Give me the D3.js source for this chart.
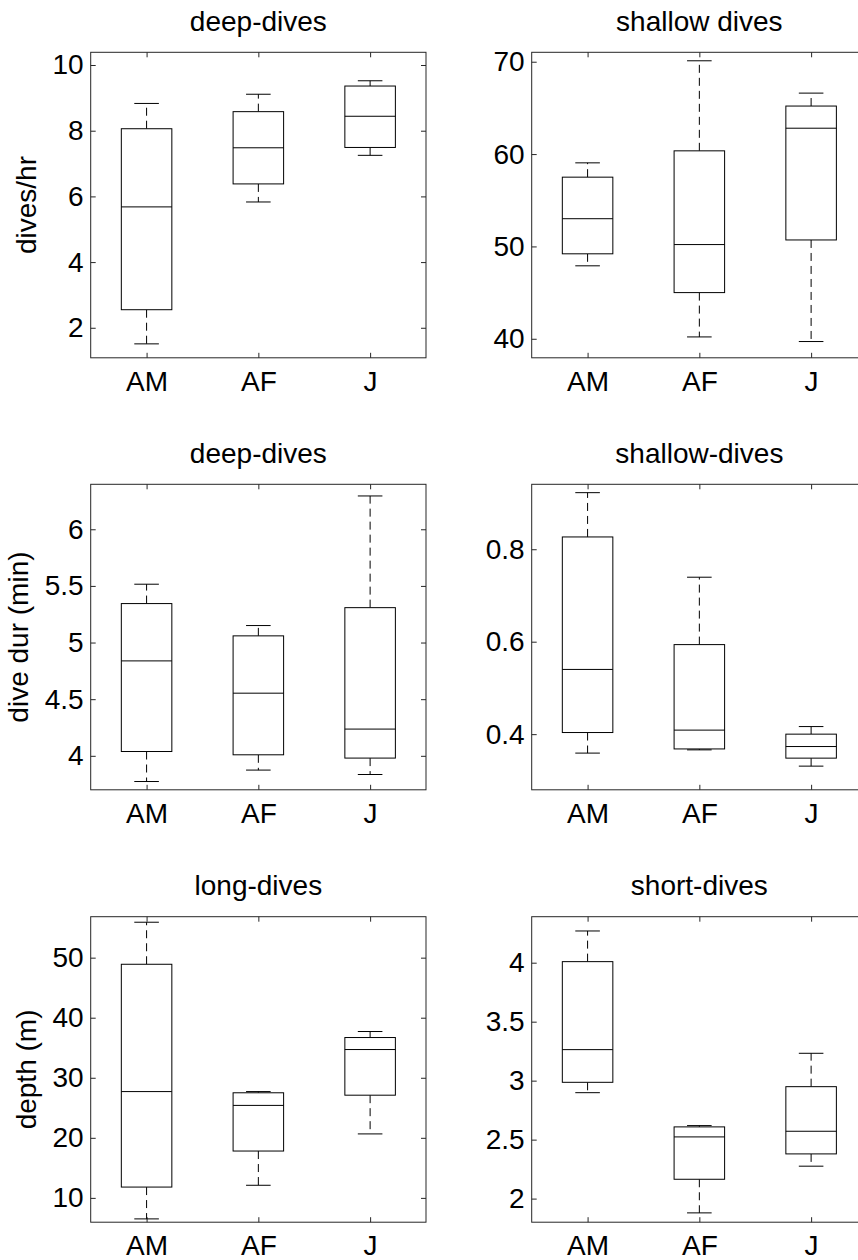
<!DOCTYPE html>
<html>
<head>
<meta charset="utf-8">
<script src="https://cdn.jsdelivr.net/npm/d3@7"></script>
<style>
  body { margin: 0; background: #fff; }
  text { font-family: "Liberation Sans", Arial, sans-serif; fill: #000; }
</style>
</head>
<body>
<svg id="chart" width="858" height="1260"></svg>
<script>
// groupes sur l'axe x
const groups = ["AM", "AF", "J"];

const titles = ["deep-dives", "shallow dives", "deep-dives", "shallow-dives", "long-dives", "short-dives"];
const yLabels = ["dives/hr", "", "dive dur (min)", "", "depth (m)", ""];

// chaque groupe : [moustache basse, q1, médiane, q3, moustache haute]
const rateDeep    = [[1.51, 2.55, 5.68, 8.06, 8.83], [5.83, 6.38, 7.48, 8.58, 9.11], [7.25, 7.49, 8.44, 9.36, 9.52]];
const rateShallow = [[47.9, 49.2, 53.0, 57.5, 59.05], [40.2, 45.0, 50.2, 60.35, 70.1], [39.7, 50.7, 62.8, 65.2, 66.6]];
const durDeep     = [[3.773, 4.038, 4.838, 5.344, 5.515], [3.874, 4.009, 4.553, 5.059, 5.15], [3.835, 3.98, 4.236, 5.308, 6.294]];
const durShallow  = [[0.359, 0.4035, 0.540, 0.8266, 0.9224], [0.366, 0.368, 0.4087, 0.5937, 0.7395], [0.3308, 0.3481, 0.3732, 0.400, 0.4164]];
const depthLong   = [[6.5, 11.8, 27.7, 48.9, 55.9], [12.1, 17.8, 25.4, 27.5, 27.7], [20.65, 27.1, 34.7, 36.7, 37.7]];
const depthShort  = [[2.898, 2.986, 3.263, 4.009, 4.269], [1.879, 2.164, 2.523, 2.608, 2.619], [2.275, 2.379, 2.571, 2.949, 3.232]];
const panelData = [rateDeep, rateShallow, durDeep, durShallow, depthLong, depthShort];

// limites et graduations des axes y
const yLimits = [[1.086, 10.387], [37.94, 71.02], [3.70, 6.397], [0.2796, 0.9405], [5.95, 56.82], [1.8, 4.39]];
const yTicks = [[2, 4, 6, 8, 10], [40, 50, 60, 70], [4, 4.5, 5, 5.5, 6], [0.4, 0.6, 0.8], [10, 20, 30, 40, 50], [2, 2.5, 3, 3.5, 4]];

const svg = d3.select("#chart");

// position des cadres (la colonne de droite dépasse du bord, comme l'original)
const colLeft = [90.7, 531.7];
const plotW = 335.3;
const rowTop = [52.3, 484.3, 916.7];
const plotH = 305.5;
const tickLen = 5;
const fontSize = 28;
const boxHalf = 0.226;  // en fraction de l'espacement
const capHalf = 0.11;

panelData.forEach((stats, i) => {
  const col = i % 2, row = Math.floor(i / 2);
  const g = svg.append("g")
    .attr("transform", `translate(${colLeft[col]},${rowTop[row]})`);

  const x = d3.scalePoint().domain(groups).range([0, plotW]).padding(0.5);
  const step = x.step();
  const y = d3.scaleLinear().domain(yLimits[i]).range([plotH, 0]);

  // axes avec graduations vers l'intérieur
  const left = g.append("g")
    .call(d3.axisLeft(y).tickValues(yTicks[i]).tickFormat(d => String(d))
      .tickSizeInner(-tickLen).tickSizeOuter(0).tickPadding(7));
  g.append("g").attr("transform", `translate(${plotW},0)`)
    .call(d3.axisRight(y).tickValues(yTicks[i]).tickFormat("")
      .tickSizeInner(-tickLen).tickSizeOuter(0));
  g.append("g").attr("transform", `translate(0,${plotH})`)
    .call(d3.axisBottom(x).tickSizeInner(-tickLen).tickSizeOuter(0).tickPadding(13));
  g.append("g")
    .call(d3.axisTop(x).tickFormat("").tickSizeInner(-tickLen).tickSizeOuter(0));

  g.selectAll(".domain").remove();
  g.selectAll(".tick line").attr("stroke", "#262626");
  g.selectAll(".tick text").attr("font-size", fontSize).attr("font-family", null);

  g.append("rect")
    .attr("width", plotW).attr("height", plotH)
    .attr("fill", "none").attr("stroke", "#262626").attr("stroke-width", 1);

  // boîtes à moustaches
  const boxes = g.selectAll(".box").data(stats).enter().append("g").attr("class", "box")
    .attr("transform", (d, j) => `translate(${x(groups[j])},0)`);

  boxes.append("line")
    .attr("y1", d => y(d[3])).attr("y2", d => y(d[4]))
    .attr("stroke", "#000").attr("stroke-dasharray", "8,5");
  boxes.append("line")
    .attr("y1", d => y(d[1])).attr("y2", d => y(d[0]))
    .attr("stroke", "#000").attr("stroke-dasharray", "8,5");
  boxes.append("line")
    .attr("x1", -capHalf * step).attr("x2", capHalf * step)
    .attr("y1", d => y(d[4])).attr("y2", d => y(d[4]))
    .attr("stroke", "#000");
  boxes.append("line")
    .attr("x1", -capHalf * step).attr("x2", capHalf * step)
    .attr("y1", d => y(d[0])).attr("y2", d => y(d[0]))
    .attr("stroke", "#000");
  boxes.append("rect")
    .attr("x", -boxHalf * step).attr("width", 2 * boxHalf * step)
    .attr("y", d => y(d[3])).attr("height", d => y(d[1]) - y(d[3]))
    .attr("fill", "#fff").attr("stroke", "#000");
  boxes.append("line")
    .attr("x1", -boxHalf * step).attr("x2", boxHalf * step)
    .attr("y1", d => y(d[2])).attr("y2", d => y(d[2]))
    .attr("stroke", "#000");

  // titre
  g.append("text")
    .attr("x", plotW / 2).attr("y", -21.5)
    .attr("text-anchor", "middle").attr("font-size", fontSize)
    .text(titles[i]);

  // libellé de l'axe y, placé à gauche des graduations
  if (yLabels[i]) {
    const bb = left.node().getBBox();
    g.append("text")
      .attr("transform", `translate(${bb.x - 17},${plotH / 2}) rotate(-90)`)
      .attr("text-anchor", "middle").attr("font-size", fontSize)
      .text(yLabels[i]);
  }
});
</script>
</body>
</html>
